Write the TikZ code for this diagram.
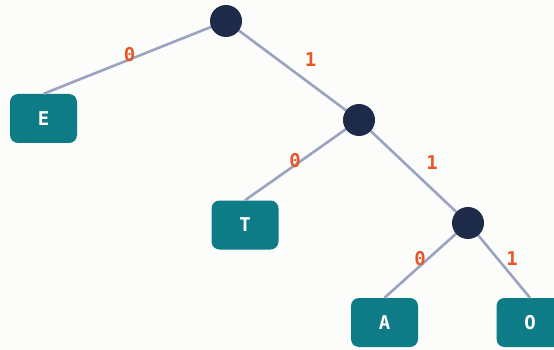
\documentclass[tikz,border=0pt]{standalone}
\usepackage{fontspec}
\setmonofont{DejaVu Sans Mono}
\definecolor{bgc}{HTML}{FCFCFA}
\definecolor{inner}{HTML}{1E2A4A}
\definecolor{leafc}{HTML}{0E7C86}
\definecolor{edgec}{HTML}{9AA3BF}
\definecolor{bitc}{HTML}{E8572A}
\tikzset{
  x=1pt, y=-1pt,
  joint/.style={circle, fill=inner, minimum size=32pt, inner sep=0pt},
  leaf/.style={rectangle, rounded corners=8pt, fill=leafc, minimum width=67pt, minimum height=49pt,
    text=white, font=\ttfamily\bfseries\fontsize{19}{19}\selectfont},
  branch/.style={draw=edgec, line width=2.6pt},
  bit/.style={text=bitc, font=\ttfamily\bfseries\fontsize{19}{19}\selectfont, inner sep=0pt}
}
\begin{document}
\begin{tikzpicture}
  \fill[bgc] (0,0) rectangle (554,350);
  \useasboundingbox (0,0) rectangle (554,350);
  % leaves
  \node[leaf] (E) at (43.5,118.5) {E};
  \node[leaf] (T) at (245,225) {T};
  \node[leaf] (A) at (384.5,322.5) {A};
  \node[leaf] (O) at (530,322.5) {O};
  % internal nodes (coordinates for edge ends)
  \coordinate (r) at (226,21);
  \coordinate (n1) at (359,120);
  \coordinate (n2) at (468,223);
  % branches
  \draw[branch] (r) -- (E.north);
  \draw[branch] (r) -- (n1);
  \draw[branch] (n1) -- (T.north);
  \draw[branch] (n1) -- (n2);
  \draw[branch] (n2) -- (A.north);
  \draw[branch] (n2) -- (O.north);
  \node[joint] (R) at (r) {};
  \node[joint] (N1) at (n1) {};
  \node[joint] (N2) at (n2) {};
  % bit labels
  \node[bit] (b1) at (129.5,54.5) {0};
  \node[bit] (b2) at (310.5,59.5) {1};
  \node[bit] (b3) at (295,161) {0};
  \node[bit] (b4) at (432,163) {1};
  \node[bit] (b5) at (420,259) {0};
  \node[bit] (b6) at (512,259) {1};
\end{tikzpicture}
\end{document}
